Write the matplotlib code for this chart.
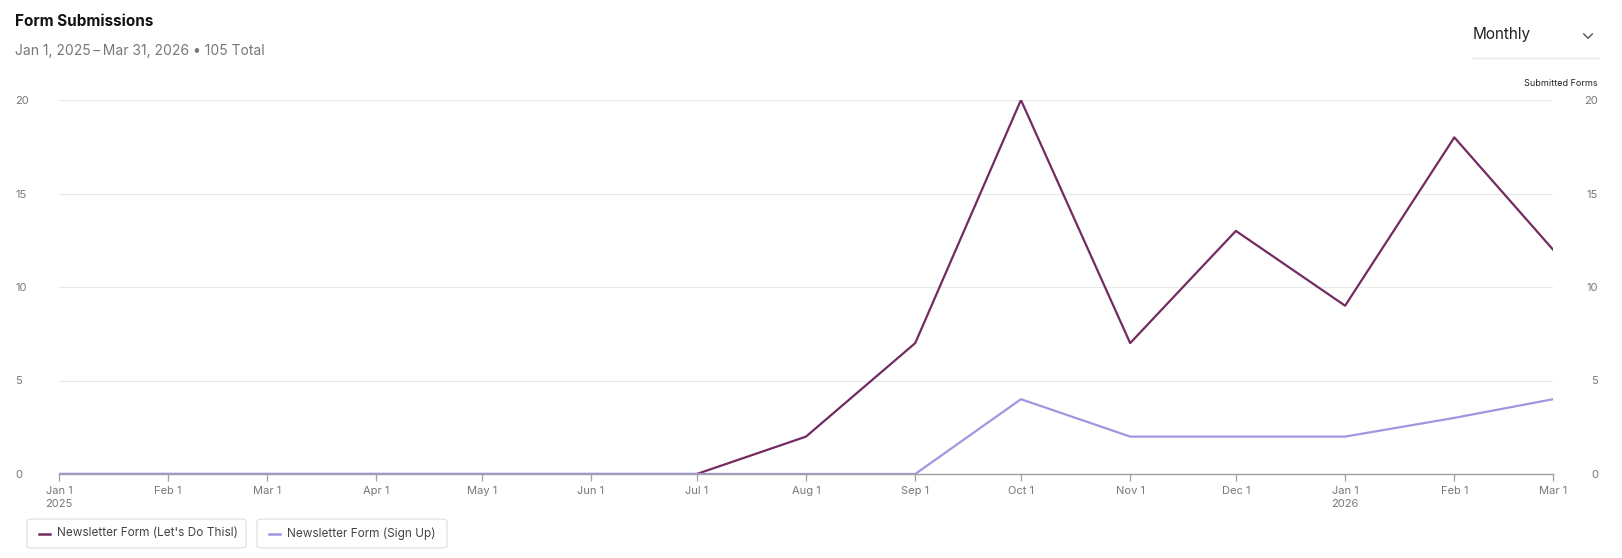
import numpy as np
import pandas as pd
import matplotlib
matplotlib.use("Agg")
import matplotlib.pyplot as plt
import matplotlib.dates as mdates
from matplotlib.patches import FancyBboxPatch
from matplotlib.lines import Line2D

plt.rcParams['font.family'] = ['Inter', 'DejaVu Sans']

# monthly buckets, Jan 2025 - Mar 2026
months = pd.date_range("2025-01-01", "2026-03-01", freq="MS")
lets_do_this = [0, 0, 0, 0, 0, 0, 0, 2, 7, 20, 7, 13, 9, 18, 12]
sign_up = [0, 0, 0, 0, 0, 0, 0, 0, 0, 4, 2, 2, 2, 3, 4]
series_names = ["Newsletter Form (Let's Do Thisl)", "Newsletter Form (Sign Up)"]
series_colors = ["#722a60", "#a593e0"]
y_ticks = [0, 5, 10, 15, 20]

W, H = 1622, 558
fig = plt.figure(figsize=(W / 100, H / 100), dpi=100)

def px(x, y):
    return x / W, 1 - y / H

left, right, top, bottom = 59, 1553, 100, 474
ax = fig.add_axes([left / W, 1 - bottom / H, (right - left) / W, (bottom - top) / H])

ax.plot(months, lets_do_this, color=series_colors[0], lw=1.6, zorder=3)
ax.plot(months, sign_up, color=series_colors[1], lw=1.6, zorder=3)

ax.set_xlim(months[0], months[-1])
ax.set_ylim(0, 20)

ax.set_yticks(y_ticks)
ax.set_yticklabels([str(v) for v in y_ticks])
ax.grid(axis='y', color='#e8e8e8', lw=0.9)
ax.set_axisbelow(True)
for s in ['top', 'right', 'left']:
    ax.spines[s].set_visible(False)
ax.spines['bottom'].set_color('#a0a0a0')
ax.spines['bottom'].set_linewidth(1.0)
ax.tick_params(axis='y', length=0, pad=31.5, labelsize=8, labelcolor='#777777')
for lab in ax.get_yticklabels():
    lab.set_horizontalalignment('left')

xlabels = []
for d in months:
    s = d.strftime("%b ") + str(d.day)
    if d.month == 1:
        s += "\n" + str(d.year)
    xlabels.append(s)
ax.set_xticks(months)
ax.set_xticklabels(xlabels, linespacing=1.35)
ax.tick_params(axis='x', length=5, width=0.9, color='#a0a0a0', pad=4,
               labelsize=8, labelcolor='#777777')

ax2 = ax.twinx()
ax2.set_ylim(0, 20)
ax2.set_yticks(y_ticks)
ax2.set_yticklabels([str(v) for v in y_ticks])
ax2.tick_params(axis='y', length=0, pad=32.5, labelsize=8, labelcolor='#777777')
for lab in ax2.get_yticklabels():
    lab.set_horizontalalignment('right')
for s in ax2.spines.values():
    s.set_visible(False)

# header
fig.text(*px(15, 22), "Form Submissions", fontsize=11, fontweight='bold',
         color='#111111', va='center', ha='left')
fig.text(*px(15, 51), "Jan 1, 2025\u2009\u2013\u2009Mar 31, 2026 \u2022 105 Total", fontsize=10,
         color='#777777', va='center', ha='left')
fig.text(*px(1473, 35), "Monthly", fontsize=11, color='#222222', va='center', ha='left')
fig.text(*px(1587, 34), "\u2304", fontsize=13, color='#555555', va='center', ha='center')
fig.add_artist(Line2D([1472 / W, 1599 / W], [1 - 58 / H] * 2, color='#e6e6e6', lw=1))
fig.text(*px(1598, 83), "Submitted Forms", fontsize=6.5, color='#222222',
         va='center', ha='right')

# legend chips
chips = [(27, 246), (257, 447)]
for (x0, x1), name, col in zip(chips, series_names, series_colors):
    box = FancyBboxPatch(((x0) / W, 1 - 548 / H), (x1 - x0) / W, 29 / H,
                         boxstyle="round,pad=0,rounding_size=0.004",
                         transform=fig.transFigure, facecolor='white',
                         edgecolor='#e2e2e2', lw=0.9)
    fig.add_artist(box)
    fig.add_artist(Line2D([(x0 + 12) / W, (x0 + 23) / W], [1 - 533.5 / H] * 2,
                          color=col, lw=1.8))
    fig.text((x0 + 30) / W, 1 - 533.5 / H, name, fontsize=8.5, color='#444444',
             va='center', ha='left')

fig.savefig("out.png", dpi=100, facecolor='white')
